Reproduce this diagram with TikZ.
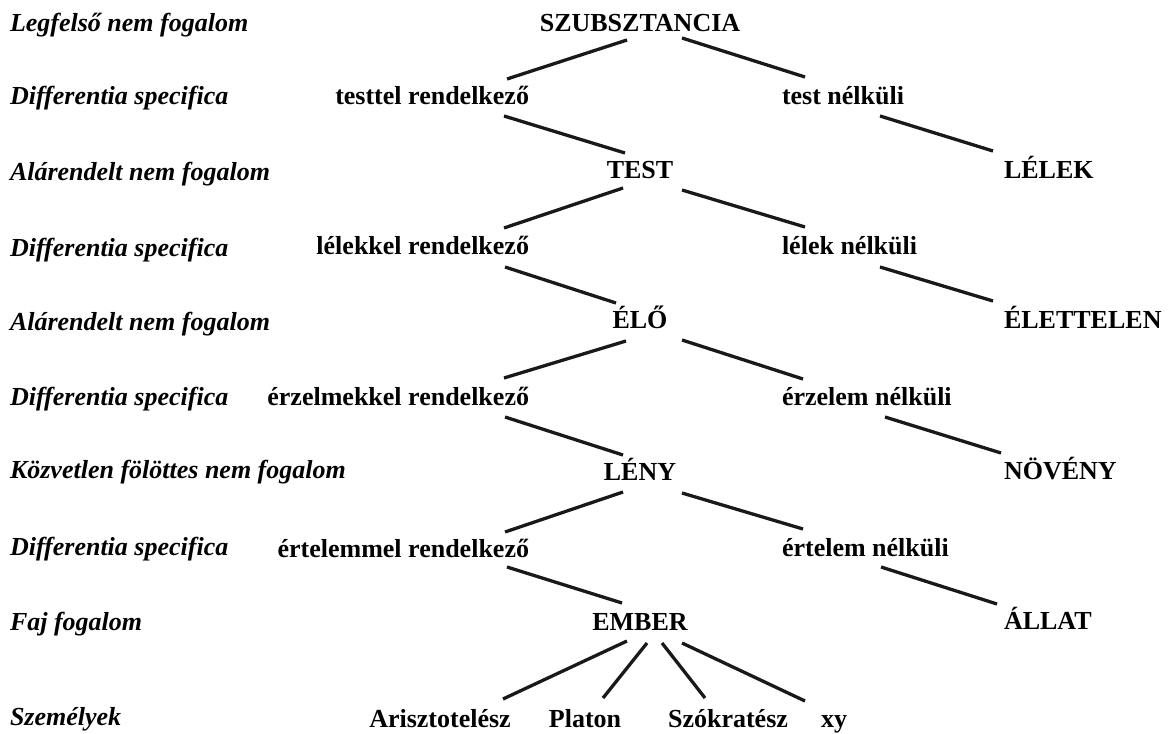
\documentclass[tikz,border=0pt]{standalone}
\usepackage{fontspec}
\setmainfont{Liberation Serif}
\begin{document}
\begin{tikzpicture}[x=1pt,y=-1pt,
  every node/.style={inner sep=0pt,outer sep=0pt,font=\fontsize{26}{30}\selectfont\bfseries},
  rowlabel/.style={anchor=base west,font=\fontsize{26}{30}\selectfont\bfseries\itshape},
  mid/.style={anchor=base},
  lft/.style={anchor=base east},
  rgt/.style={anchor=base west},
  conn/.style={line width=3.3pt,black!90}]
\useasboundingbox (0,0) rectangle (1174,733);
% row labels
\node[rowlabel] (r0) at (10,32) {Legfelső nem fogalom};
\node[rowlabel] (r1) at (10,105) {Differentia specifica};
\node[rowlabel] (r2) at (10,180) {Alárendelt nem fogalom};
\node[rowlabel] (r3) at (10,256) {Differentia specifica};
\node[rowlabel] (r4) at (10,330) {Alárendelt nem fogalom};
\node[rowlabel] (r5) at (10,405) {Differentia specifica};
\node[rowlabel] (r6) at (10,478) {Közvetlen fölöttes nem fogalom};
\node[rowlabel] (r7) at (10,555) {Differentia specifica};
\node[rowlabel] (r8) at (10,630) {Faj fogalom};
\node[rowlabel] (r9) at (10,725) {Személyek};
% tree
\node[mid] (szub) at (640,32) {SZUBSZTANCIA};
\node[lft] (testtel) at (529,105) {testtel rendelkező};
\node[rgt] (testn) at (782,105) {test nélküli};
\node[mid] (test) at (640,178) {TEST};
\node[rgt] (lelek) at (1004,178) {LÉLEK};
\node[lft] (lelekkel) at (529,254) {lélekkel rendelkező};
\node[rgt] (lelekn) at (782,254) {lélek nélküli};
\node[mid] (elo) at (640,328) {ÉLŐ};
\node[rgt] (elettelen) at (1004,328) {ÉLETTELEN};
\node[lft] (erzelmekkel) at (529,405) {érzelmekkel rendelkező};
\node[rgt] (erzelemn) at (782,405) {érzelem nélküli};
\node[mid] (leny) at (640,480) {LÉNY};
\node[rgt] (noveny) at (1004,479) {NÖVÉNY};
\node[lft] (ertelemmel) at (529,557) {értelemmel rendelkező};
\node[rgt] (ertelemn) at (782,556) {értelem nélküli};
\node[mid] (ember) at (640,630) {EMBER};
\node[rgt] (allat) at (1004,629) {ÁLLAT};
\node[mid] (arisz) at (440,727) {Arisztotelész};
\node[mid] (platon) at (585,727) {Platon};
\node[mid] (szokr) at (728,727) {Szókratész};
\node[mid] (xy) at (834,727) {xy};
% connectors
\draw[conn] ([shift={(-13,8)}]szub.base) -- ([shift={(-22,-26)}]testtel.base east);
\draw[conn] ([shift={(42,6)}]szub.base) -- ([shift={(23,-28)}]testn.base west);
\draw[conn] ([shift={(-25,11)}]testtel.base east) -- ([shift={(-15,-25)}]test.base);
\draw[conn] ([shift={(98,11)}]testn.base west) -- ([shift={(-11,-27)}]lelek.base west);
\draw[conn] ([shift={(-17,10)}]test.base) -- ([shift={(-25,-26)}]lelekkel.base east);
\draw[conn] ([shift={(42,12)}]test.base) -- ([shift={(23,-27)}]lelekn.base west);
\draw[conn] ([shift={(-24,13)}]lelekkel.base east) -- ([shift={(-24,-25)}]elo.base);
\draw[conn] ([shift={(98,13)}]lelekn.base west) -- ([shift={(-11,-27)}]elettelen.base west);
\draw[conn] ([shift={(-14,13)}]elo.base) -- ([shift={(-25,-27)}]erzelmekkel.base east);
\draw[conn] ([shift={(42,12)}]elo.base) -- ([shift={(21,-26)}]erzelemn.base west);
\draw[conn] ([shift={(-24,12)}]erzelmekkel.base east) -- ([shift={(-17,-25)}]leny.base);
\draw[conn] ([shift={(103,12)}]erzelemn.base west) -- ([shift={(-3,-26)}]noveny.base west);
\draw[conn] ([shift={(-17,12)}]leny.base) -- ([shift={(-24,-25)}]ertelemmel.base east);
\draw[conn] ([shift={(42,13)}]leny.base) -- ([shift={(21,-27)}]ertelemn.base west);
\draw[conn] ([shift={(-22,10)}]ertelemmel.base east) -- ([shift={(-18,-27)}]ember.base);
\draw[conn] ([shift={(99,11)}]ertelemn.base west) -- ([shift={(-7,-25)}]allat.base west);
\draw[conn] ([shift={(-13,11)}]ember.base) -- ([shift={(63,-28)}]arisz.base);
\draw[conn] ([shift={(7,13)}]ember.base) -- ([shift={(18,-29)}]platon.base);
\draw[conn] ([shift={(22,13)}]ember.base) -- ([shift={(-23,-29)}]szokr.base);
\draw[conn] ([shift={(42,13)}]ember.base) -- ([shift={(-29,-26)}]xy.base);
\end{tikzpicture}
\end{document}
